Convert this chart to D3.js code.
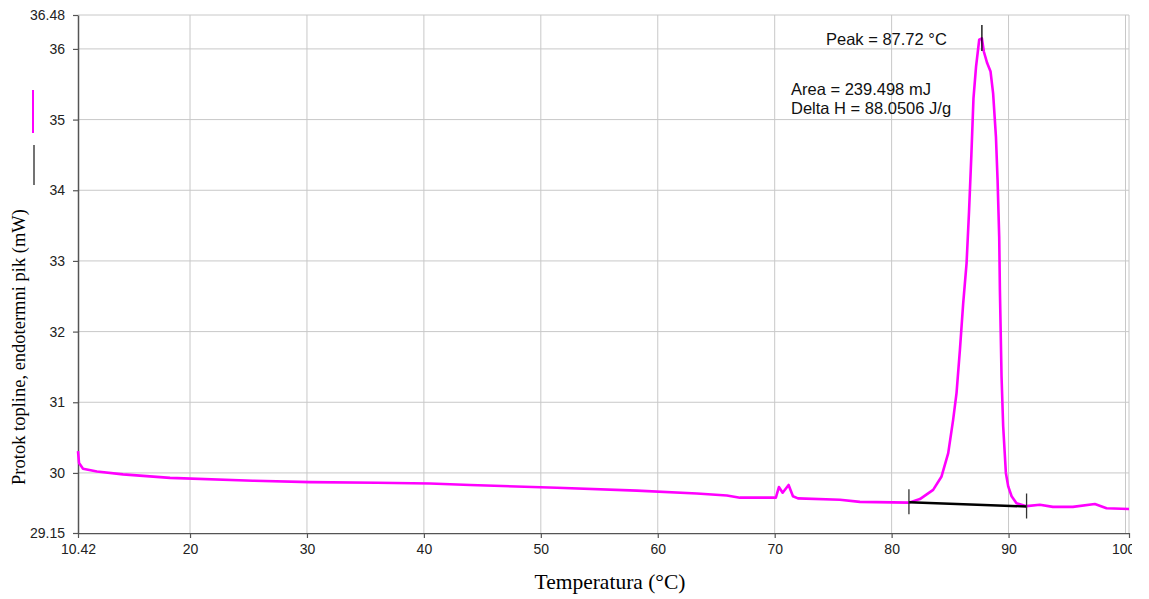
<!DOCTYPE html>
<html><head><meta charset="utf-8">
<script src="https://cdn.jsdelivr.net/npm/d3@7"></script>
<style>
html,body{margin:0;padding:0;background:#fff;}
svg{display:block;}
</style></head>
<body>
<svg id="chart" width="1149" height="599"></svg>
<script>
// ---- data ----
const tempC = [10.42,10.51,10.85,12.04,14.27,18.29,25.38,30.26,35.99,40.52,43.96,51.38,58.22,63.35,65.91,67.03,70.10,70.36,70.68,71.19,71.56,71.99,75.58,77.29,81.48,82.42,83.55,84.27,84.84,85.26,85.55,85.84,86.12,86.41,86.62,86.82,87.00,87.22,87.49,87.72,87.89,88.17,88.46,88.68,88.92,89.06,89.20,89.26,89.40,89.54,89.77,89.97,90.26,90.68,91.54,92.68,93.79,95.50,97.38,98.38,100.30];
const heatFlow = [30.31,30.14,30.06,30.02,29.98,29.93,29.89,29.87,29.86,29.85,29.83,29.79,29.75,29.71,29.68,29.65,29.65,29.80,29.72,29.83,29.67,29.64,29.62,29.59,29.58,29.63,29.76,29.95,30.28,30.75,31.13,31.74,32.40,32.97,33.70,34.50,35.30,35.75,36.13,36.15,35.96,35.80,35.68,35.37,34.76,34.15,33.34,32.59,31.36,30.66,30.00,29.81,29.67,29.57,29.53,29.55,29.52,29.52,29.56,29.50,29.49];
const baselineT = [81.48, 91.54];
const baselineY = [29.585, 29.525];
const peakT = 87.72;
const xTicks = [10.42,20,30,40,50,60,70,80,90,100.3];
const xGrid = [20,30,40,50,60,70,80,90,100,100.3];
const yTicks = [29.15,30,31,32,33,34,35,36,36.48];
const yGrid = [30,31,32,33,34,35,36,36.48];
const xDomain = [10.42, 100.3];
const yDomain = [29.15, 36.48];
const annotations = ["Peak = 87.72 °C", "Area = 239.498 mJ", "Delta H = 88.0506 J/g"];

// ---- layout ----
const L = 78, R = 1129, T = 15, B = 533;
const svg = d3.select("#chart");
const x = d3.scaleLinear().domain(xDomain).range([L, R]);
const y = d3.scaleLinear().domain(yDomain).range([B, T]);

// grid
svg.append("g").selectAll("line").data(xGrid).join("line")
  .attr("x1", d => x(d)).attr("x2", d => x(d)).attr("y1", T).attr("y2", B)
  .attr("stroke", "#c8c8c8").attr("stroke-width", 1);
svg.append("g").selectAll("line").data(yGrid).join("line")
  .attr("x1", L).attr("x2", R).attr("y1", d => y(d)).attr("y2", d => y(d))
  .attr("stroke", "#c8c8c8").attr("stroke-width", 1);

// clip for right-edge label
svg.append("clipPath").attr("id", "xclip").append("rect")
  .attr("x", 0).attr("y", 0).attr("width", 1132).attr("height", 599);

// axes
const xAxis = d3.axisBottom(x).tickValues(xTicks).tickFormat(d => String(d)).tickSize(5).tickSizeOuter(0);
const gx = svg.append("g").attr("transform", `translate(0,${B})`).attr("clip-path", "url(#xclip)").call(xAxis);
const yAxis = d3.axisLeft(y).tickValues(yTicks).tickFormat(d => String(d)).tickSize(5).tickSizeOuter(0);
const gy = svg.append("g").attr("transform", `translate(${L},0)`).call(yAxis);
[gx, gy].forEach(g => {
  g.select(".domain").attr("stroke", "#555").attr("stroke-width", 1.5);
  g.selectAll(".tick line").attr("stroke", "#555").attr("stroke-width", 1.2);
  g.selectAll(".tick text").attr("font-family", "'Liberation Sans', Arial, sans-serif")
    .attr("font-size", "14px").attr("fill", "#222");
});
gx.selectAll(".tick text").attr("dy", "0.9em");
gy.selectAll(".tick text").attr("x", -13);

// data line
const pts = tempC.map((t, i) => [t, heatFlow[i]]);
svg.append("path").datum(pts)
  .attr("d", d3.line().x(d => x(d[0])).y(d => y(d[1])))
  .attr("fill", "none").attr("stroke", "#ff00ff").attr("stroke-width", 2.6)
  .attr("stroke-linejoin", "round");

// integration baseline
const bpts = baselineT.map((t, i) => [t, baselineY[i]]);
svg.append("path").datum(bpts)
  .attr("d", d3.line().x(d => x(d[0])).y(d => y(d[1])))
  .attr("fill", "none").attr("stroke", "#000").attr("stroke-width", 2.4);
svg.append("g").selectAll("line").data(bpts).join("line")
  .attr("x1", d => x(d[0])).attr("x2", d => x(d[0]))
  .attr("y1", d => y(d[1]) - 13).attr("y2", d => y(d[1]) + 12)
  .attr("stroke", "#333").attr("stroke-width", 1.3);

// peak marker
svg.append("line").attr("x1", x(peakT)).attr("x2", x(peakT))
  .attr("y1", 25).attr("y2", 51).attr("stroke", "#000").attr("stroke-width", 1.3);

// annotations
const af = "'Liberation Sans', Arial, sans-serif";
svg.append("text").attr("x", 826).attr("y", 45).text(annotations[0])
  .attr("font-family", af).attr("font-size", "16.5px").attr("fill", "#111");
svg.append("text").attr("x", 791).attr("y", 95).text(annotations[1])
  .attr("font-family", af).attr("font-size", "16.5px").attr("fill", "#111");
svg.append("text").attr("x", 791).attr("y", 114).text(annotations[2])
  .attr("font-family", af).attr("font-size", "16.5px").attr("fill", "#111");

// legend marks
svg.append("line").attr("x1", 33).attr("x2", 33).attr("y1", 90).attr("y2", 133)
  .attr("stroke", "#ff00ff").attr("stroke-width", 2);
svg.append("line").attr("x1", 34).attr("x2", 34).attr("y1", 145).attr("y2", 185)
  .attr("stroke", "#444").attr("stroke-width", 1.5);

// axis titles
svg.append("text").attr("transform", "translate(25,347) rotate(-90)")
  .attr("text-anchor", "middle").attr("font-family", "'Liberation Serif', 'Times New Roman', serif")
  .attr("font-size", "18.5px").attr("fill", "#000").text("Protok topline, endotermni pik (mW)");
svg.append("text").attr("x", 610).attr("y", 589)
  .attr("text-anchor", "middle").attr("font-family", "'Liberation Serif', 'Times New Roman', serif")
  .attr("font-size", "21.5px").attr("fill", "#000").text("Temperatura (°C)");
</script>
</body></html>
